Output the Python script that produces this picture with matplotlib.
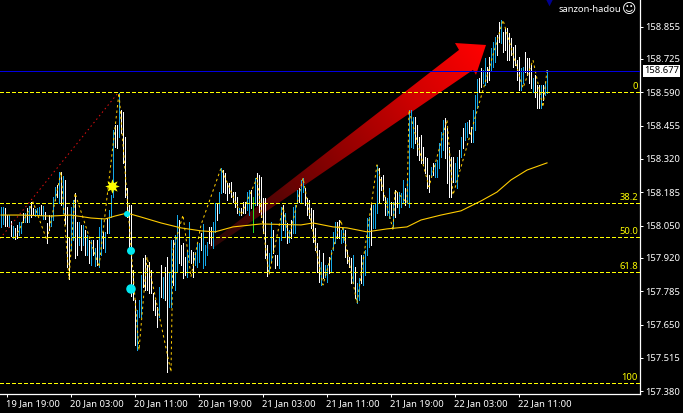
# USDJPY style M15 chart, black MT4 look

import numpy as np
import matplotlib
matplotlib.use("Agg")
import matplotlib.pyplot as plt
from matplotlib.collections import LineCollection
from matplotlib.colors import LinearSegmentedColormap
from matplotlib.patches import Polygon
from matplotlib.transforms import ScaledTranslation

highs = [
    158.126,158.126,158.122,158.093,158.093,158.069,158.049,158.041,158.053,158.065,
    158.065,158.101,158.101,158.122,158.130,158.146,158.122,158.118,158.122,158.126,
    158.134,158.130,158.105,158.061,158.093,158.093,158.166,158.207,158.215,158.267,
    158.267,158.251,158.235,158.126,158.004,158.126,158.154,158.182,158.065,158.065,
    158.053,158.053,158.033,158.012,157.992,157.992,157.992,157.960,157.992,158.045,
    158.081,158.025,158.025,158.081,158.114,158.174,158.437,158.457,158.457,158.587,
    158.518,158.510,158.409,158.203,158.134,158.134,157.871,157.750,157.709,157.750,
    157.851,157.919,157.932,157.891,157.903,157.871,157.778,157.750,157.721,157.802,
    157.891,157.843,157.883,157.923,157.863,157.992,157.992,158.012,158.093,158.073,
    157.972,157.980,157.923,157.952,158.065,157.952,157.944,157.944,157.980,157.980,
    158.020,158.057,157.972,157.984,158.045,158.045,158.065,158.142,158.142,158.186,
    158.283,158.275,158.263,158.223,158.223,158.227,158.186,158.186,158.166,158.122,
    158.122,158.146,158.146,158.186,158.194,158.194,158.166,158.243,158.263,158.255,
    158.247,158.162,158.162,157.972,157.940,158.065,158.033,157.932,157.932,158.000,
    158.126,158.134,158.101,158.061,158.033,158.073,158.126,158.134,158.194,158.203,
    158.235,158.243,158.203,158.162,158.154,158.122,158.114,158.041,157.980,157.952,
    157.903,157.940,157.891,157.891,157.923,157.952,158.025,158.065,158.065,158.073,
    158.033,158.041,158.033,157.952,157.923,157.919,157.932,157.883,157.818,157.839,
    157.932,157.932,157.952,158.081,158.085,158.142,158.134,158.142,158.296,158.283,
    158.247,158.255,158.166,158.162,158.203,158.146,158.146,158.194,158.186,158.186,
    158.182,158.235,158.203,158.235,158.518,158.518,158.490,158.490,158.457,158.409,
    158.417,158.368,158.328,158.324,158.255,158.288,158.304,158.304,158.316,158.385,
    158.429,158.478,158.486,158.445,158.368,158.328,158.328,158.304,158.328,158.356,
    158.409,158.445,158.465,158.469,158.478,158.449,158.518,158.579,158.644,158.648,
    158.688,158.680,158.728,158.692,158.732,158.769,158.793,158.813,158.821,158.874,
    158.882,158.834,158.850,158.850,158.830,158.809,158.773,158.781,158.720,158.732,
    158.688,158.692,158.753,158.728,158.728,158.700,158.648,158.660,158.619,158.619,
    158.619,158.619,158.631,158.680,
]
lows = [
    158.045,158.057,158.049,158.049,158.045,158.008,158.000,157.996,158.000,158.012,
    158.020,158.065,158.065,158.065,158.065,158.085,158.097,158.089,158.097,158.093,
    158.093,158.077,158.077,157.980,158.033,158.049,158.073,158.154,158.166,158.142,
    158.134,158.101,158.057,157.883,157.834,157.952,157.992,157.919,157.932,157.972,
    157.952,157.972,157.932,157.932,157.899,157.891,157.932,157.887,157.891,157.883,
    157.932,157.960,157.944,158.020,158.020,158.085,158.166,158.368,158.364,158.409,
    158.425,158.304,158.166,158.085,157.952,157.766,157.750,157.568,157.547,157.681,
    157.681,157.802,157.790,157.790,157.778,157.778,157.709,157.689,157.640,157.681,
    157.762,157.758,157.750,157.458,157.721,157.721,157.810,157.790,157.863,157.899,
    157.891,157.839,157.851,157.843,157.911,157.899,157.843,157.891,157.883,157.903,
    157.952,157.879,157.891,157.932,157.980,157.972,157.960,158.025,158.073,158.101,
    158.182,158.186,158.182,158.154,158.182,158.166,158.146,158.126,158.101,158.093,
    158.093,158.101,158.101,158.114,158.093,158.122,158.025,158.134,158.134,158.105,
    158.085,158.020,157.919,157.847,157.863,157.903,157.940,157.879,157.891,157.879,
    157.992,158.033,158.004,157.980,157.984,158.000,158.020,158.020,158.142,158.146,
    158.146,158.186,158.134,158.093,158.081,158.041,157.984,157.952,157.863,157.822,
    157.810,157.839,157.843,157.822,157.859,157.863,157.952,157.980,158.000,158.000,
    157.980,157.984,157.923,157.899,157.883,157.818,157.818,157.758,157.737,157.750,
    157.818,157.810,157.851,157.932,157.964,157.972,158.041,158.041,158.101,158.146,
    158.194,158.154,158.093,158.093,158.081,158.093,158.041,158.085,158.126,158.101,
    158.126,158.146,158.134,158.142,158.126,158.368,158.364,158.385,158.336,158.316,
    158.304,158.304,158.263,158.203,158.186,158.247,158.255,158.247,158.247,158.283,
    158.328,158.356,158.324,158.223,158.166,158.166,158.227,158.227,158.203,158.283,
    158.328,158.364,158.397,158.409,158.425,158.389,158.389,158.437,158.526,158.591,
    158.611,158.627,158.619,158.631,158.639,158.680,158.692,158.712,158.741,158.793,
    158.789,158.753,158.761,158.720,158.720,158.741,158.692,158.700,158.639,158.599,
    158.599,158.627,158.672,158.660,158.627,158.607,158.591,158.571,158.526,158.526,
    158.526,158.559,158.579,158.587,
]
bar_kinds = (
    "bbwwbwbwwb" "bwbwbwwbbb" "wbwwwbbbwb" "wbwwwbbwwb" "wbwbwbwbwb" "bwbwbbbwwb"
    "wwwwwwwwbb" "bwwwwwwwwb" "wbwwbbwbbw" "wwwbbwwbbb" "wbbbwwbbwb" "bwwwwwwwwb"
    "wwwbbwgbww" "wwwwbbwwwb" "bwbwbwbbbw" "bbwwwwwwww" "bwbbwbbbww" "bbwwwwbwbb"
    "wbbbbwbbbw" "wwwbbwbwwb" "bbwbbbbwww" "wwwwwbwbbb" "bbwwwwwbbw" "bwbbwwbbbw"
    "wbbwwbbbww" "bwwwwwwwww" "bbwwwwbwww" "bwbb"
)

zigzag_bar = [7,16,23,30,34,37,49,59,69,73,85,86,91,95,100,110,120,128,134,141,
              144,151,161,170,178,188,196,197,203,204,214,223,226,251,261,266,271,273]
zigzag_price = [158.000,158.146,157.990,158.267,157.834,158.182,157.883,158.587,157.547,157.923,
                157.458,157.952,158.093,157.843,158.053,158.283,158.093,158.243,157.851,158.126,
                158.000,158.243,157.810,158.073,157.737,158.296,158.033,158.194,158.142,158.518,
                158.207,158.478,158.174,158.882,158.607,158.720,158.530,158.680]

ma_bar = [0,10,25,35,45,52,57,63,70,80,90,100,107,116,130,150,156,166,173,183,
          193,203,210,220,230,240,248,255,263,273]
ma_price = [158.093,158.093,158.089,158.093,158.081,158.077,158.089,158.101,158.085,158.061,
            158.041,158.029,158.025,158.045,158.057,158.053,158.061,158.045,158.041,158.025,
            158.037,158.045,158.073,158.093,158.110,158.150,158.186,158.235,158.275,158.304]

fib_levels = ["0", "38.2", "50.0", "61.8", "100"]
fib_prices = [158.591, 158.140, 158.004, 157.863, 157.414]

current_price = 158.677
price_ticks = [158.855, 158.725, 158.590, 158.455, 158.320, 158.185,
               158.050, 157.920, 157.785, 157.650, 157.515, 157.380]
time_labels = ["19 Jan 19:00", "20 Jan 03:00", "20 Jan 11:00", "20 Jan 19:00", "21 Jan 03:00",
               "21 Jan 11:00", "21 Jan 19:00", "22 Jan 03:00", "22 Jan 11:00"]
time_ticks = [3, 35, 67, 99, 131, 163, 195, 227, 259]

trend_bar = [-0.5, 58.5]
trend_price = [157.998, 158.587]

# arrow outline : tail, neck, head, neck, tail
arrow_bar = [102, 229, 227, 242.5, 237.5, 236, 104.5]
arrow_price = [157.964, 158.761, 158.789, 158.781, 158.660, 158.680, 157.952]

signal_bar = [63, 65, 65]
signal_price = [158.097, 157.948, 157.794]
signal_size = [19, 33, 47]

BLUE = "#14a8e8"
GOLD = "#ffcc00"
colors = {"b": BLUE, "w": "#ffffff", "g": "#22dd22"}

plt.rcParams["font.family"] = ["Noto Sans", "DejaVu Sans"]
plt.rcParams["font.size"] = 6.8

fig = plt.figure(figsize=(6.83, 4.13), dpi=100, facecolor="black")
ax = fig.add_axes([0, 19 / 413, 640 / 683, 394 / 413], facecolor="black")

x_lim = (-0.5, 319.5)
y_lim = (157.369, 158.963)

# gradient arrow under the bars
gx, gy = np.meshgrid(np.linspace(100, 245, 300), np.linspace(157.9, 158.85, 300))
px = gx * 2
py = gy * 247.2
dx, dy = (242.5 - 102) * 2, (158.781 - 157.964) * 247.2
t = ((px - 102 * 2) * dx + (py - 157.964 * 247.2) * dy) / (dx * dx + dy * dy)
cmap = LinearSegmentedColormap.from_list("arr", ["#240606", "#5a0404", "#960000", "#d00000", "#ff0000"])
img = ax.imshow(t, origin="lower", extent=(100, 245, 157.9, 158.85), aspect="auto",
                cmap=cmap, vmin=0, vmax=1, zorder=1)
clip = Polygon(list(zip(arrow_bar, arrow_price)), closed=True, transform=ax.transData)
img.set_clip_path(clip)

# bars
segs = [[(i, lows[i]), (i, highs[i])] for i in range(len(highs))]
lc = LineCollection(segs, colors=[colors[k] for k in bar_kinds], linewidths=0.72,
                    antialiaseds=False, zorder=2)
ax.add_collection(lc)

ax.plot(trend_bar, trend_price, color="#e01010", lw=0.72, ls=(0, (1.5, 3)), zorder=3)
ax.plot(zigzag_bar, zigzag_price, color=GOLD, lw=0.72, ls=(0, (2.5, 3)), zorder=3)
ax.plot(ma_bar, ma_price, color=GOLD, lw=0.8, zorder=4)

for lev, p in zip(fib_levels, fib_prices):
    ax.axhline(p, color="#ffff00", lw=0.72, ls=(0, (4, 2.5)), zorder=4, antialiased=False)
    ax.annotate(lev, xy=(1, p), xycoords=ax.get_yaxis_transform(), xytext=(-1.5, 0.8),
                textcoords="offset points", ha="right", va="bottom", color="#ffff00")

ax.axhline(current_price, color="#0000e0", lw=0.72, zorder=4, antialiased=False)
ax.text(1.0065, current_price, "158.677", transform=ax.get_yaxis_transform(), color="black",
        va="center", ha="left", zorder=10, clip_on=False,
        bbox=dict(facecolor="white", edgecolor="none", pad=1.0))

ax.scatter(signal_bar, signal_price, s=signal_size, color="#00e8f0", linewidths=0, zorder=6)
ax.scatter([55.5], [158.211], s=110, marker=(8, 1, 0), color="#ffff00", linewidths=0, zorder=6)
ax.scatter([274], [158.955], s=30, marker="v", color="#000090", linewidths=0, zorder=6)

ax.text(621 / 640, 0.977, "sanzon-hadou", transform=ax.transAxes, color="white", ha="right", va="center")
ax.text(629.5 / 640, 0.977, "\u263a", transform=ax.transAxes, color="white", ha="center", va="center",
        family="DejaVu Sans", fontsize=10)

ax.set_xlim(x_lim)
ax.set_ylim(y_lim)
ax.yaxis.tick_right()
ax.set_yticks(price_ticks)
ax.set_yticklabels([f"{v:.3f}" for v in price_ticks])
ax.set_xticks(time_ticks)
ax.set_xticklabels(time_labels, ha="left")
ax.tick_params(colors="white", length=2.5, width=0.72, pad=1)
shift = ScaledTranslation(-1.5 / 100, 0, fig.dpi_scale_trans)
for lab in ax.get_xticklabels():
    lab.set_transform(lab.get_transform() + shift)
for s in ("top", "left"):
    ax.spines[s].set_visible(False)
for s in ("right", "bottom"):
    ax.spines[s].set_color("white")
    ax.spines[s].set_linewidth(0.9)

fig.savefig("out.png", dpi=100, facecolor="black")
